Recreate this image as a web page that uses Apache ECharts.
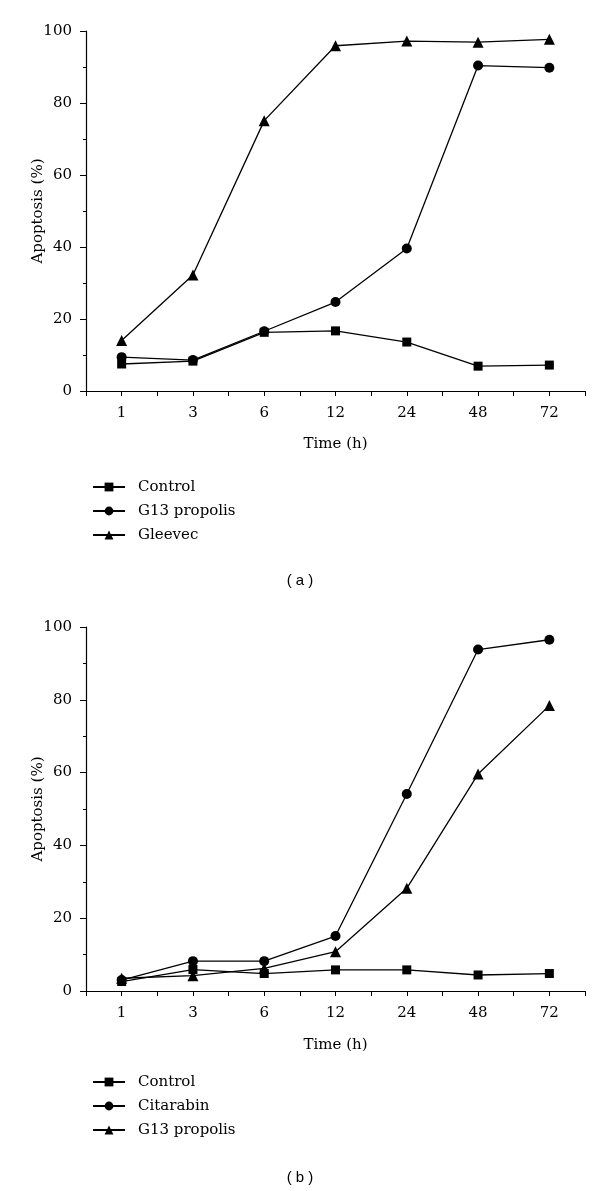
<!DOCTYPE html>
<html><head><meta charset="utf-8">
<script src="https://cdn.jsdelivr.net/npm/echarts@6/dist/echarts.min.js"></script>
<style>html,body{margin:0;padding:0;background:#fff;width:600px;height:1191px;overflow:hidden}
#a{position:absolute;left:0;top:0;width:600px;height:595px}
#b{position:absolute;left:0;top:595px;width:600px;height:596px}</style>
</head><body><div id="a"></div><div id="b"></div>
<script>
const timeLabels = ['1','3','6','12','24','48','72'];
const yTicks = [0,20,40,60,80,100];
// Panel (a)
const aNames = ['Control','G13 propolis','Gleevec'];
const aControl = [7.5, 8.3, 16.3, 16.7, 13.6, 6.9, 7.2];
const aG13 = [9.4, 8.6, 16.6, 24.7, 39.6, 90.4, 89.8];
const aGleevec = [14.0, 32.2, 75.1, 95.9, 97.2, 96.9, 97.7];
// Panel (b)
const bNames = ['Control','Citarabin','G13 propolis'];
const bControl = [2.6, 5.9, 4.8, 5.8, 5.8, 4.4, 4.8];
const bCitarabin = [3.0, 8.2, 8.2, 15.1, 54.1, 93.8, 96.5];
const bG13 = [3.5, 4.2, 6.2, 10.8, 28.2, 59.6, 78.4];

const serif = 'DejaVu Serif';
const symbols = ['rect','circle','triangle'];
const sizes = [9,10,11];

function toPts(arr){ return arr.map((v,i)=>[i,v]); }

function makeOption(names, seriesVals, gridTop, gridH, nameGap, legendTop, tagTop, tag){
  return {
    animation:false,
    backgroundColor:'#fff',
    grid:{left:86, width:499, top:gridTop, height:gridH},
    xAxis:{type:'value', min:-0.5, max:6.5, interval:0.5,
      name:'Time (h)', nameLocation:'middle', nameGap:nameGap,
      nameTextStyle:{fontFamily:serif, fontSize:15, color:'#000'},
      axisLine:{onZero:false, lineStyle:{color:'#000', width:1.2}},
      axisTick:{show:true, length:5, lineStyle:{color:'#000'}},
      axisLabel:{fontFamily:serif, fontSize:15, color:'#000', margin:15,
        formatter:v=>{const i=Math.round(v); return Math.abs(v-i)<1e-6 && i>=0 && i<timeLabels.length ? timeLabels[i] : '';}},
      splitLine:{show:false}},
    yAxis:{type:'value', min:yTicks[0], max:yTicks[yTicks.length-1], interval:yTicks[1]-yTicks[0],
      name:'Apoptosis (%)', nameLocation:'middle', nameGap:40, nameMoveOverlap:false,
      nameTextStyle:{fontFamily:serif, fontSize:15, color:'#000'},
      axisLine:{show:true, onZero:false, lineStyle:{color:'#000', width:1.2}},
      axisTick:{show:true, length:6, lineStyle:{color:'#000'}},
      minorTick:{show:true, splitNumber:2, length:3, lineStyle:{color:'#000'}},
      axisLabel:{fontFamily:serif, fontSize:15, color:'#000', margin:14},
      splitLine:{show:false}},
    legend:{orient:'vertical', left:87, top:legendTop, itemWidth:32, itemHeight:11, itemGap:8,
      data:names, selectedMode:false,
      textStyle:{fontFamily:serif, fontSize:15, color:'#000', lineHeight:16, padding:[0,0,0,8]}},
    graphic:[{type:'text', left:'center', top:tagTop,
      style:{text:'( '+tag+' )', font:'15px "Liberation Sans"', fill:'#000'}}],
    series: names.map((n,k)=>({
      name:n, type:'line', data:toPts(seriesVals[k]),
      symbol:symbols[k], symbolSize:sizes[k], showSymbol:true,
      lineStyle:{color:'#000', width:1.3}, itemStyle:{color:'#000'},
      z: 2+k
    }))
  };
}

const ca = echarts.init(document.getElementById('a'), null, {renderer:'canvas'});
ca.setOption(makeOption(aNames, [aControl, aG13, aGleevec], 31, 360, 46, 474, 573, 'a'));
const cb = echarts.init(document.getElementById('b'), null, {renderer:'canvas'});
cb.setOption(makeOption(bNames, [bControl, bCitarabin, bG13], 32, 364, 47, 474, 575, 'b'));
</script></body></html>
